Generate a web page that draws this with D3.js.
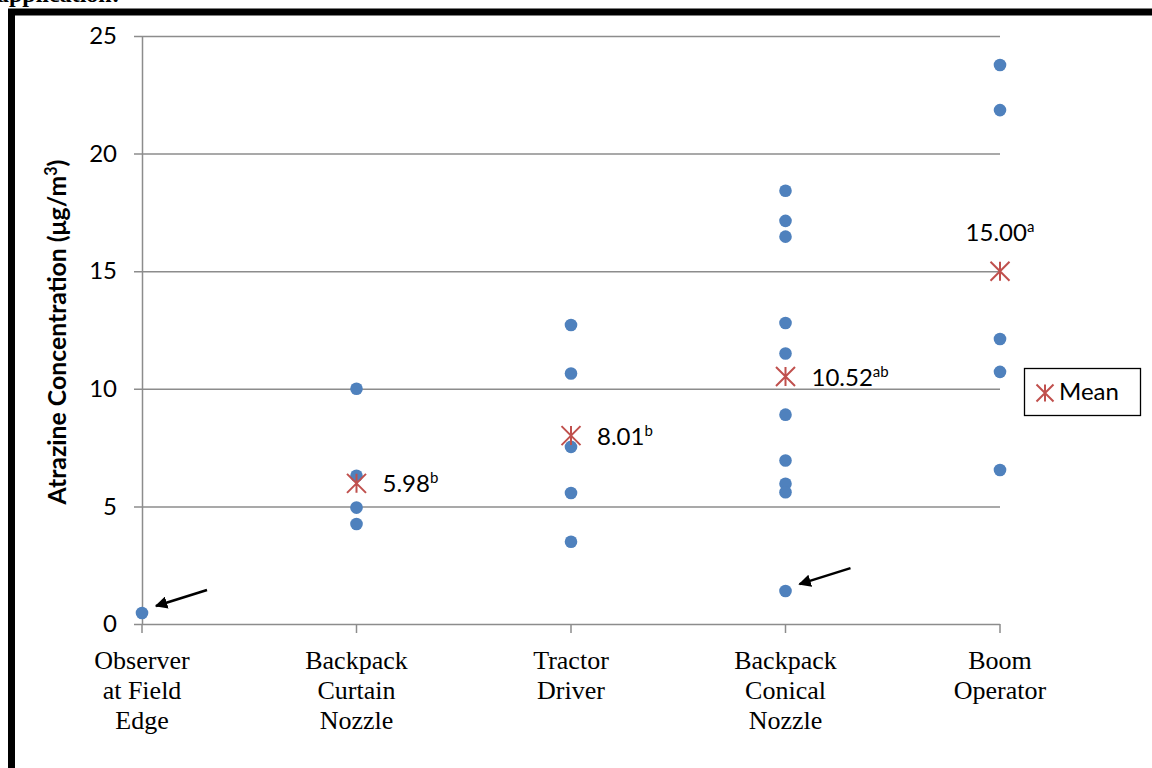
<!DOCTYPE html>
<html>
<head>
<meta charset="utf-8">
<script src="https://cdn.jsdelivr.net/npm/d3@7"></script>
<style>
  html, body { margin: 0; padding: 0; background: #fff; }
  svg { display: block; }
</style>
</head>
<body>
<svg id="chart" width="1152" height="768"></svg>
<script>
// ---------- data ----------
const categories = [
  ["Observer", "at Field", "Edge"],
  ["Backpack", "Curtain", "Nozzle"],
  ["Tractor", "Driver"],
  ["Backpack", "Conical", "Nozzle"],
  ["Boom", "Operator"]
];
const observerValues = [0.47];
const curtainValues  = [10.0, 6.3, 4.95, 4.25];
const tractorValues  = [12.71, 10.65, 7.53, 5.57, 3.5];
const conicalValues  = [18.42, 17.14, 16.47, 12.8, 11.5, 8.9, 6.95, 5.96, 5.6, 1.4];
const boomValues     = [23.77, 21.85, 12.12, 10.72, 6.55];
const seriesValues = [observerValues, curtainValues, tractorValues, conicalValues, boomValues];

const meanCategory = [1, 2, 3, 4];
const meanValues   = [5.98, 8.01, 10.52, 15.00];
const meanText     = ["5.98", "8.01", "10.52", "15.00"];
const meanLetters  = ["b", "b", "ab", "a"];

const yTicks = [0, 5, 10, 15, 20, 25];
const arrowTargets = [{cat: 0, value: 0.47}, {cat: 3, value: 1.4}];

// ---------- layout ----------
const svg = d3.select("#chart");
const x = d3.scaleLinear().domain([0, 4]).range([142, 1000]);
const y = d3.scaleLinear().domain([0, 25]).range([624, 36]);

const tickFont = "Lato, 'Open Sans', sans-serif";
const blue = "#4F81BD", red = "#C0504D", grid = "#8C8C8C";

// cut-off heading at very top (as in the reference, only its lower part shows)
svg.append("text")
  .attr("x", -3).attr("y", 2)
  .attr("font-family", "'Liberation Serif', 'Times New Roman', serif")
  .attr("font-weight", "bold").attr("font-size", 24)
  .attr("fill", "#000")
  .text("application:");

// frame
svg.append("rect")
  .attr("x", 11.5).attr("y", 12)
  .attr("width", 1300).attr("height", 900)
  .attr("fill", "none").attr("stroke", "#000").attr("stroke-width", 7);

// y gridlines / axis
const yAxis = d3.axisLeft(y).tickValues(yTicks)
  .tickSize(-(x(4) - x(0))).tickSizeOuter(0).tickPadding(17)
  .tickFormat(d3.format("d"));
const gy = svg.append("g").attr("transform", `translate(${x(0)},0)`).call(yAxis);
gy.select(".domain").attr("stroke", grid).attr("stroke-width", 1.5);
gy.selectAll(".tick line").attr("stroke", grid).attr("stroke-width", 1.5)
  .attr("x1", -8);
gy.selectAll(".tick text")
  .attr("font-family", tickFont).attr("font-size", 24).attr("fill", "#000")
  .attr("x", -25);

// x-axis category ticks
const catIdx = d3.range(categories.length);
svg.append("g").selectAll("line").data(catIdx).join("line")
  .attr("x1", d => x(d)).attr("x2", d => x(d))
  .attr("y1", y(0)).attr("y2", y(0) + 9)
  .attr("stroke", grid).attr("stroke-width", 1.5);

// category labels
const catG = svg.append("g")
  .attr("font-family", "'Liberation Serif', 'Times New Roman', serif")
  .attr("font-size", 26).attr("fill", "#000").attr("text-anchor", "middle");
catIdx.forEach(i => {
  categories[i].forEach((line, j) => {
    catG.append("text").attr("x", x(i)).attr("y", 669 + j * 30).text(line);
  });
});

// y-axis title (fitted to the reference's span)
const yTitle = svg.append("text")
  .attr("transform", "translate(66,332) rotate(-90)")
  .attr("text-anchor", "middle")
  .attr("font-family", tickFont).attr("font-weight", "bold")
  .attr("font-size", 20).attr("fill", "#000");
const tMain = yTitle.append("tspan").text("Atrazine Concentration (μg/m");
const tSup = yTitle.append("tspan").attr("font-size", 13).attr("dy", -7).text("3");
const tEnd = yTitle.append("tspan").attr("dy", 7).text(")");
{
  const len = yTitle.node().getComputedTextLength();
  const fs = 20 * 345 / len;
  yTitle.attr("font-size", fs);
  tSup.attr("font-size", fs * 0.65).attr("dy", -fs * 0.38);
  tEnd.attr("dy", fs * 0.38);
}

// data points
const pts = [];
seriesValues.forEach((vals, i) => vals.forEach(v => pts.push({cat: i, v})));
svg.append("g").selectAll("circle").data(pts).join("circle")
  .attr("cx", d => x(d.cat)).attr("cy", d => y(d.v))
  .attr("r", 6.3).attr("fill", blue);

// star marker helper
function star(g, cx, cy, s, w) {
  const h = s / 2;
  const p = `M${cx - h},${cy - h}L${cx + h},${cy + h}M${cx - h},${cy + h}L${cx + h},${cy - h}M${cx},${cy - h}L${cx},${cy + h}`;
  g.append("path").attr("d", p).attr("stroke", red).attr("stroke-width", w).attr("fill", "none");
}

const meanG = svg.append("g");
meanValues.forEach((m, i) => star(meanG, x(meanCategory[i]), y(m), 19, 2));

// mean labels
const lblG = svg.append("g").attr("font-family", tickFont).attr("font-size", 24).attr("fill", "#000");
meanValues.forEach((m, i) => {
  const cx = x(meanCategory[i]), cy = y(m);
  const last = i === meanValues.length - 1;
  const t = lblG.append("text")
    .attr("x", last ? cx : cx + 26)
    .attr("y", last ? cy - 30 : cy + 9)
    .attr("text-anchor", last ? "middle" : "start");
  t.append("tspan").text(meanText[i]);
  t.append("tspan").attr("font-size", 15).attr("dy", -9).text(meanLetters[i]);
});

// arrows
const defs = svg.append("defs");
defs.append("marker").attr("id", "ah")
  .attr("viewBox", "0 0 10 10").attr("refX", 9).attr("refY", 5)
  .attr("markerWidth", 5).attr("markerHeight", 5)
  .attr("markerUnits", "strokeWidth").attr("orient", "auto")
  .append("path").attr("d", "M0,0L10,5L0,10z").attr("fill", "#000");
svg.append("g").selectAll("line").data(arrowTargets).join("line")
  .attr("x1", d => x(d.cat) + 65).attr("y1", d => y(d.value) - 23)
  .attr("x2", d => x(d.cat) + 14).attr("y2", d => y(d.value) - 7)
  .attr("stroke", "#000").attr("stroke-width", 2.5)
  .attr("marker-end", "url(#ah)");

// legend
const lg = svg.append("g");
lg.append("rect").attr("x", 1024.5).attr("y", 368.5).attr("width", 116).attr("height", 47)
  .attr("fill", "#fff").attr("stroke", "#000").attr("stroke-width", 1.3);
star(lg, 1045, 393, 17, 2);
lg.append("text").attr("x", 1059).attr("y", 400)
  .attr("font-family", tickFont).attr("font-size", 24).attr("fill", "#000").text("Mean");
</script>
</body>
</html>
